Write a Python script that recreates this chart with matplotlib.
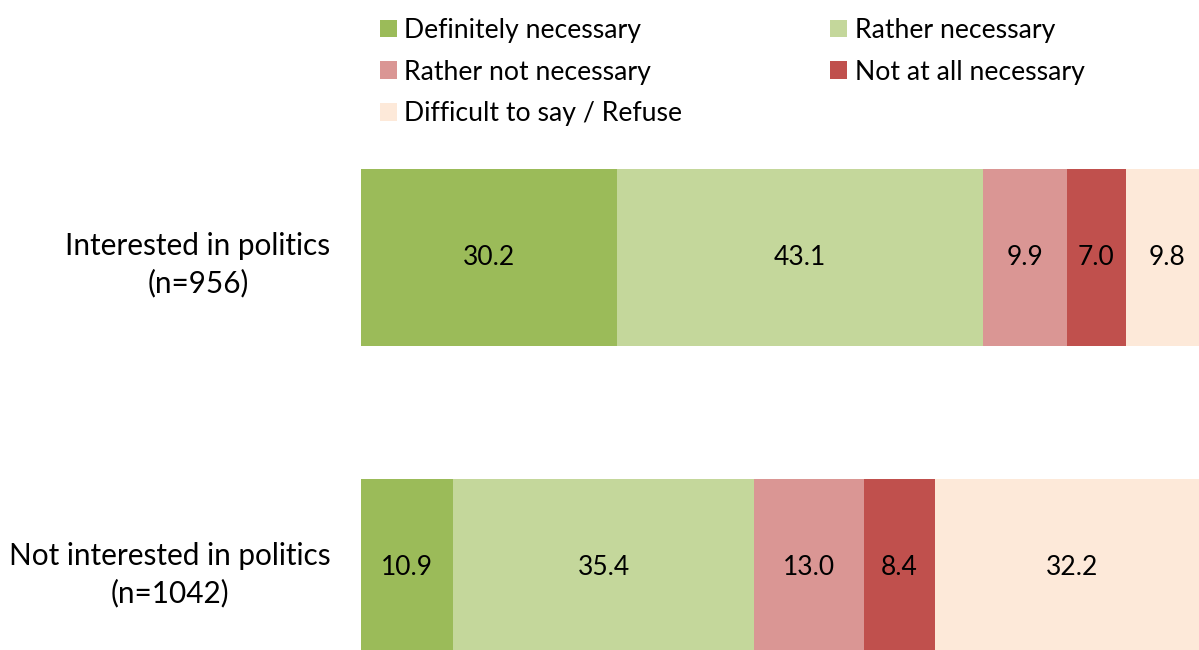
import matplotlib
matplotlib.use("Agg")
import matplotlib.pyplot as plt
from matplotlib.patches import Patch

categories = ["Not interested in politics\n(n=1042)", "Interested in politics\n(n=956)"]
series_names = ["Definitely necessary", "Rather necessary", "Rather not necessary",
                "Not at all necessary", "Difficult to say / Refuse"]
values = {
    "Definitely necessary": [10.9, 30.2],
    "Rather necessary": [35.4, 43.1],
    "Rather not necessary": [13.0, 9.9],
    "Not at all necessary": [8.4, 7.0],
    "Difficult to say / Refuse": [32.2, 9.8],
}
colors = ["#9BBB59", "#C4D79B", "#DA9694", "#C0504D", "#FDE9D9"]

plt.rcParams['font.family'] = ['Lato', 'DejaVu Sans']
fig = plt.figure(figsize=(11.99, 6.5), dpi=100)
ax = fig.add_axes([361/1199, 0, 848/1199, 1])

ypos = list(range(len(categories)))
left = [0.0] * len(categories)
handles = []
for name, col in zip(series_names, colors):
    vals = values[name]
    ax.barh(ypos, vals, left=left, height=0.571, color=col, edgecolor='none')
    for y, v, l in zip(ypos, vals, left):
        ax.text(l + v / 2, y, f"{v:.1f}", ha='center', va='center', fontsize=19, color='black')
    left = [a + b for a, b in zip(left, vals)]
    handles.append(Patch(facecolor=col, edgecolor='none', label=name))

ax.set_xlim(0, 100)
ax.set_ylim(-82.5/310, 1 + 257.5/310)
ax.set_yticks(ypos)
ax.set_yticklabels(categories, fontsize=21.4, multialignment='center', linespacing=1.39)
ax.tick_params(axis='y', length=0, pad=22)
ax.set_xticks([])
for s in ax.spines.values():
    s.set_visible(False)

order = [0, 2, 4, 1, 3]
fig.legend([handles[i] for i in order], [series_names[i] for i in order],
           ncol=2, loc='upper left', bbox_to_anchor=(356/1199, 1 + 6/650),
           frameon=False, fontsize=19.2, handlelength=0.64, handleheight=0.64,
           handletextpad=0.27, columnspacing=5.55, labelspacing=0.62)

fig.savefig("out.png", dpi=100)
